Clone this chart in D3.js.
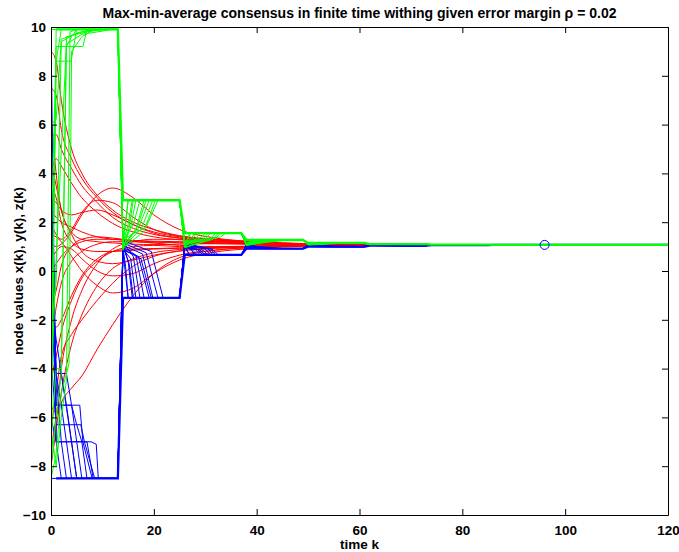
<!DOCTYPE html>
<html lang="en">
<head>
<meta charset="UTF-8">
<title>Max-min-average consensus</title>
<script src="https://d3js.org/d3.v7.min.js"></script>
<style>
  body { margin: 0; background: #fff; }
  text { font-family: "Liberation Sans", Arial, sans-serif; font-weight: bold; font-size: 13.5px; fill: #000; }
  .axis path, .axis line { stroke: #000; }
  .thin { fill: none; stroke-width: 1; }
  .thick { fill: none; stroke-width: 2.3; }
</style>
</head>
<body>
<svg width="679" height="552"></svg>
<script>
// axis ticks
const xTicks = [0, 20, 40, 60, 80, 100, 120];
const yTicks = [-10, -8, -6, -4, -2, 0, 2, 4, 6, 8, 10];

// average consensus x(k) (red), sampled at these k
const redK = [0, 1, 2, 4, 6, 9, 12, 16, 20, 25, 32, 40, 50, 62, 120];
const redSeries = [
  [9.0, 8.6, 7.0, 5.0, 4.0, 3.1, 2.5, 2.0, 1.7, 1.45, 1.3, 1.2, 1.12, 1.08, 1.07],
  [7.5, 7.2, 5.8, 4.6, 3.8, 3.0, 2.4, 1.9, 1.6, 1.4, 1.27, 1.18, 1.11, 1.08, 1.07],
  [5.5, 5.6, 5.0, 4.2, 3.5, 2.8, 2.2, 1.75, 1.5, 1.35, 1.22, 1.15, 1.1, 1.08, 1.07],
  [4.0, 4.6, 4.3, 3.6, 3.0, 2.4, 1.95, 1.6, 1.4, 1.28, 1.2, 1.13, 1.09, 1.075, 1.07],
  [1.2, 1.0, 1.1, 1.6, 2.3, 3.1, 3.4, 3.0, 2.3, 1.7, 1.35, 1.2, 1.11, 1.08, 1.07],
  [2.0, 1.5, 1.3, 1.7, 2.4, 2.9, 2.8, 2.2, 1.7, 1.42, 1.28, 1.17, 1.1, 1.08, 1.07],
  [3.0, 2.8, 2.5, 2.3, 2.4, 2.5, 2.3, 1.9, 1.55, 1.35, 1.24, 1.15, 1.1, 1.08, 1.07],
  [1.5, 1.4, 1.2, 0.6, 0.0, -0.6, -0.9, -0.7, -0.1, 0.45, 0.78, 0.93, 1.02, 1.06, 1.07],
  [0.5, 0.8, 1.0, 0.9, 0.5, 0.0, -0.2, -0.1, 0.3, 0.65, 0.86, 0.97, 1.03, 1.06, 1.07],
  [-8.0, -6.5, -5.0, -3.0, -1.8, -0.6, 0.1, 0.5, 0.75, 0.88, 0.96, 1.01, 1.05, 1.065, 1.07],
  [-7.5, -6.0, -5.4, -4.8, -4.3, -3.2, -2.2, -1.0, -0.1, 0.55, 0.85, 0.97, 1.03, 1.06, 1.07],
  [-6.5, -5.0, -3.5, -2.6, -2.0, -1.2, -0.5, 0.2, 0.6, 0.82, 0.94, 1.0, 1.04, 1.06, 1.07],
  [-4.5, -3.5, -2.5, -1.2, -0.3, 0.4, 0.8, 1.0, 1.05, 1.0, 0.98, 1.02, 1.05, 1.065, 1.07],
  [-3.0, -1.5, -0.5, 0.4, 0.8, 1.1, 1.2, 1.2, 1.15, 1.18, 1.16, 1.12, 1.09, 1.075, 1.07],
  [-1.5, -0.8, 0.2, 1.0, 1.3, 1.4, 1.35, 1.25, 1.2, 1.15, 1.12, 1.1, 1.08, 1.07, 1.07],
  [6.5, 4.0, 2.5, 1.6, 1.3, 1.2, 1.15, 1.1, 1.08, 1.1, 1.12, 1.1, 1.08, 1.07, 1.07],
  [2.5, 2.2, 2.0, 1.8, 1.6, 1.4, 1.3, 1.25, 1.22, 1.2, 1.15, 1.11, 1.085, 1.075, 1.07],
  [0.0, 0.3, 0.6, 1.0, 1.2, 1.3, 1.3, 1.22, 1.15, 1.05, 1.0, 1.02, 1.05, 1.065, 1.07],
  [-2.0, -2.3, -2.0, -1.0, -0.2, 0.5, 0.8, 0.9, 0.92, 0.95, 0.98, 1.02, 1.05, 1.065, 1.07],
  [3.5, 3.0, 2.0, 1.2, 0.9, 0.8, 0.8, 0.85, 0.9, 0.93, 0.97, 1.01, 1.04, 1.06, 1.07],
  [4.5, 3.5, 2.5, 1.5, 0.8, 0.4, 0.3, 0.45, 0.65, 0.82, 0.93, 1.0, 1.04, 1.06, 1.07],
  [-5.5, -5.8, -4.0, -2.0, -0.8, 0.3, 0.9, 1.2, 1.3, 1.3, 1.22, 1.15, 1.1, 1.08, 1.07]
];

// max consensus y(k) (green), [k, value] per node and per period
const greenP1 = [
  [[0, 9.9], [13, 9.9]],
  [[0, -8.4], [1, 9.9], [13, 9.9]],
  [[0, -6.0], [1, 8.6], [2, 9.9], [13, 9.9]],
  [[0, -4.0], [1, 8.6], [3.9, 8.6], [5, 9.9], [13, 9.9]],
  [[0, 1.0], [1, 9.2], [6.2, 9.2], [7, 9.9], [13, 9.9]],
  [[0, -8.0], [1, -6.0], [2, -4.2], [3, 9.2], [4, 9.6], [5, 9.9], [13, 9.9]],
  [[0, -2.5], [1, -0.45], [2, 9.4], [5, 9.75], [8, 9.9], [13, 9.9]],
  [[0, 6.0], [1, 6.2], [2, 9.5], [6, 9.8], [9, 9.9], [13, 9.9]],
  [[0, -7.0], [1, -4.0], [2, -4.0], [3, 9.6], [7, 9.8], [10, 9.9], [13, 9.9]],
  [[0, -8.5], [1, -7.5], [2, -5.0], [3.5, -3.8], [4, 9.0], [6, 9.6], [8, 9.85], [11, 9.9], [13, 9.9]],
  [[0, -5.0], [1, 0.5], [3, 9.3], [6, 9.7], [12, 9.9], [13, 9.9]],
  [[0, -6.5], [1, -8.0], [2, -6.0], [3, -4.5], [3.7, 9.8], [5, 9.9], [13, 9.9]]
];
const greenP2 = [
  [[14, 1.05], [14.5, 1.9], [15, 2.9], [25, 2.9]],
  [[14, 1.15], [15, 1.9], [15.8, 2.9], [25, 2.9]],
  [[14, 0.95], [15.5, 1.8], [16.5, 2.9], [25, 2.9]],
  [[14, 1.25], [16, 1.9], [17.3, 2.9], [25, 2.9]],
  [[14, 0.9], [16.5, 1.7], [18.1, 2.9], [25, 2.9]],
  [[14, 1.1], [17, 1.75], [19.1, 2.9], [25, 2.9]],
  [[14, 1.0], [17.5, 1.7], [19.8, 2.9], [25, 2.9]],
  [[14, 1.3], [18.5, 1.8], [20.8, 2.9], [25, 2.9]],
  [[14, 1.2], [15, 2.9], [25, 2.9]],
  [[14, 0.85], [15.2, 1.8], [16, 2.9], [25, 2.9]],
  [[14, 1.05], [16.8, 1.8], [18.5, 2.9], [25, 2.9]],
  [[14, 0.95], [18, 1.6], [20.3, 2.9], [25, 2.9]]
];
const greenP3 = [
  [[26, 1.05], [27, 1.55], [37, 1.55]],
  [[26, 1.1], [27.3, 1.35], [28, 1.55], [37, 1.55]],
  [[26, 1.0], [28, 1.3], [29, 1.55], [37, 1.55]],
  [[26, 1.15], [29, 1.35], [30, 1.55], [37, 1.55]],
  [[26, 1.05], [30, 1.3], [31, 1.55], [37, 1.55]],
  [[26, 0.95], [31, 1.3], [32, 1.55], [37, 1.55]],
  [[26, 1.1], [32, 1.35], [33, 1.55], [37, 1.55]],
  [[26, 1.2], [33, 1.4], [34, 1.55], [37, 1.55]],
  [[26, 1.0], [27.5, 1.3], [28.3, 1.55], [37, 1.55]],
  [[26, 1.12], [29.5, 1.3], [30.5, 1.55], [37, 1.55]],
  [[26, 0.98], [31.5, 1.3], [32.5, 1.55], [37, 1.55]],
  [[26, 1.08], [26.6, 1.3], [27.2, 1.55], [37, 1.55]]
];
const greenP4 = [
  [[38, 1.08], [39, 1.27], [49, 1.27]],
  [[38, 1.12], [39.5, 1.27], [49, 1.27]],
  [[38, 1.05], [40, 1.27], [49, 1.27]],
  [[38, 1.1], [40.5, 1.27], [49, 1.27]],
  [[38, 1.07], [41, 1.27], [49, 1.27]],
  [[38, 1.14], [41.5, 1.27], [49, 1.27]],
  [[38, 1.06], [42, 1.27], [49, 1.27]],
  [[38, 1.1], [43, 1.27], [49, 1.27]],
  [[38, 1.09], [43.5, 1.27], [49, 1.27]],
  [[38, 1.04], [44, 1.27], [49, 1.27]],
  [[38, 1.11], [45, 1.27], [49, 1.27]],
  [[38, 1.08], [46, 1.27], [49, 1.27]]
];
const greenP5 = [
  [[50, 1.07], [51, 1.15], [61, 1.15]],
  [[50, 1.09], [51.5, 1.15], [61, 1.15]],
  [[50, 1.06], [52, 1.15], [61, 1.15]],
  [[50, 1.08], [52.5, 1.15], [61, 1.15]],
  [[50, 1.07], [53, 1.15], [61, 1.15]],
  [[50, 1.1], [53.5, 1.15], [61, 1.15]],
  [[50, 1.06], [54, 1.15], [61, 1.15]],
  [[50, 1.08], [55, 1.15], [61, 1.15]],
  [[50, 1.07], [55.5, 1.15], [61, 1.15]],
  [[50, 1.05], [56, 1.15], [61, 1.15]],
  [[50, 1.09], [57, 1.15], [61, 1.15]],
  [[50, 1.07], [58, 1.15], [61, 1.15]]
];
const greenEndK = [63, 63.5, 64, 64.5, 65, 65.5, 66, 67, 67.5, 68, 69, 70];
const greenEndK7 = [75, 75.5, 76, 76.5, 77, 77.5, 78, 79, 79.5, 80, 81, 82];

// min consensus z(k) (blue)
const blueP1 = [
  [[0, -8.5], [13, -8.5]],
  [[0, 9.9], [1, -7.0], [2, -8.5], [13, -8.5]],
  [[0, -2.0], [1, -4.2], [2, -7.0], [3, -8.5], [13, -8.5]],
  [[0, 4.0], [1, -4.2], [2, -4.2], [3, -5.5], [4, -7.0], [5, -8.5], [13, -8.5]],
  [[0, 0.5], [1, -4.2], [3, -4.2], [4, -5.5], [5, -7.0], [6, -8.5], [13, -8.5]],
  [[0, 6.5], [1, -5.5], [4, -5.5], [5, -6.3], [6, -7.0], [7, -8.5], [13, -8.5]],
  [[0, 2.5], [1, -5.5], [5.6, -5.5], [6.2, -7.0], [8, -8.5], [13, -8.5]],
  [[0, -3.5], [1, -6.3], [5.8, -6.3], [6.5, -7.0], [8.5, -8.5], [13, -8.5]],
  [[0, 1.5], [1, -7.0], [7.8, -7.0], [8.8, -7.1], [9.2, -8.5], [13, -8.5]],
  [[0, -6.0], [1, -7.0], [7, -7.0], [8.2, -8.5], [13, -8.5]],
  [[0, 3.0], [1, -4.2], [2, -5.5], [3, -7.0], [4, -8.5], [13, -8.5]],
  [[0, -1.0], [1, -2.8], [2, -4.2], [3.5, -6.3], [5, -8.5], [13, -8.5]]
];
const blueP2 = [
  [[14, 0.95], [14.5, 0.2], [15, -1.1], [25, -1.1]],
  [[14, 1.1], [15, 0.4], [15.8, -1.1], [25, -1.1]],
  [[14, 0.9], [15.5, 0.5], [16.5, -1.1], [25, -1.1]],
  [[14, 1.2], [16, 0.6], [17.3, -1.1], [25, -1.1]],
  [[14, 1.0], [16.5, 0.65], [18.1, -1.1], [25, -1.1]],
  [[14, 0.85], [17, 0.6], [19.1, -1.1], [25, -1.1]],
  [[14, 1.05], [17.8, 0.7], [19.8, -1.1], [25, -1.1]],
  [[14, 1.15], [18.5, 0.75], [20.8, -1.1], [25, -1.1]],
  [[14, 1.25], [19.5, 0.8], [21.8, -1.1], [25, -1.1]],
  [[14, 0.8], [15, -1.1], [25, -1.1]],
  [[14, 1.0], [15.2, 0.3], [16, -1.1], [25, -1.1]],
  [[14, 0.9], [17.5, 0.5], [19.5, -1.1], [25, -1.1]]
];
const blueP3 = [
  [[26, 1.0], [27, 0.66], [37, 0.66]],
  [[26, 1.05], [27.3, 0.85], [28, 0.66], [37, 0.66]],
  [[26, 1.1], [28, 0.9], [29, 0.66], [37, 0.66]],
  [[26, 0.98], [29, 0.85], [30, 0.66], [37, 0.66]],
  [[26, 1.08], [30, 0.9], [31, 0.66], [37, 0.66]],
  [[26, 1.12], [31, 0.92], [32, 0.66], [37, 0.66]],
  [[26, 1.02], [27.6, 0.85], [28.4, 0.66], [37, 0.66]],
  [[26, 1.06], [28.5, 0.88], [29.5, 0.66], [37, 0.66]],
  [[26, 0.95], [29.6, 0.85], [30.5, 0.66], [37, 0.66]],
  [[26, 1.1], [30.6, 0.9], [31.5, 0.66], [37, 0.66]],
  [[26, 1.0], [26.5, 0.8], [27, 0.66], [37, 0.66]],
  [[26, 1.04], [31.5, 0.88], [32.5, 0.66], [37, 0.66]]
];
const blueP4 = [
  [[38, 1.02], [39, 0.92], [49, 0.92]],
  [[38, 1.06], [39.5, 0.92], [49, 0.92]],
  [[38, 1.0], [40, 0.92], [49, 0.92]],
  [[38, 1.05], [40.5, 0.92], [49, 0.92]],
  [[38, 1.08], [41, 0.92], [49, 0.92]],
  [[38, 1.03], [41.5, 0.92], [49, 0.92]],
  [[38, 1.06], [42, 0.92], [49, 0.92]],
  [[38, 1.01], [42.5, 0.92], [49, 0.92]],
  [[38, 1.07], [43, 0.92], [49, 0.92]],
  [[38, 1.04], [43.5, 0.92], [49, 0.92]],
  [[38, 1.02], [44, 0.92], [49, 0.92]],
  [[38, 1.05], [45, 0.92], [49, 0.92]]
];
const blueP5 = [
  [[50, 1.06], [51, 1.0], [61, 1.0]],
  [[50, 1.07], [51.5, 1.0], [61, 1.0]],
  [[50, 1.05], [52, 1.0], [61, 1.0]],
  [[50, 1.08], [52.5, 1.0], [61, 1.0]],
  [[50, 1.06], [53, 1.0], [61, 1.0]],
  [[50, 1.07], [53.5, 1.0], [61, 1.0]],
  [[50, 1.05], [54, 1.0], [61, 1.0]],
  [[50, 1.08], [54.5, 1.0], [61, 1.0]],
  [[50, 1.06], [55, 1.0], [61, 1.0]],
  [[50, 1.07], [55.5, 1.0], [61, 1.0]],
  [[50, 1.05], [56, 1.0], [61, 1.0]],
  [[50, 1.06], [57, 1.0], [61, 1.0]]
];
const blueEndK = [63, 63.5, 64, 64.5, 65, 65.5, 66, 66.5, 67, 67.5, 68, 69];
const blueEndK7 = [75, 75.5, 76, 76.5, 77, 77.5, 78, 78.5, 79, 79.5, 80, 81];

// period levels after k = 61 and final consensus value
const greenLate = [1.1, 1.08];
const blueLate = [1.04, 1.06];
const consensus = 1.07;

// thick envelopes (overall max / min)
const greenEnvelope = [[1, 9.9], [13, 9.9], [14, 2.9], [25, 2.9], [26, 1.55], [37, 1.55], [38, 1.27], [49, 1.27],
  [50, 1.15], [61, 1.15], [62, 1.1], [73, 1.1], [74, 1.08], [85, 1.08], [86, 1.07], [120, 1.07]];
const blueEnvelope = [[1, -8.5], [13, -8.5], [14, -1.1], [25, -1.1], [26, 0.66], [37, 0.66], [38, 0.92], [49, 0.92],
  [50, 1.0], [61, 1.0], [62, 1.04], [73, 1.04], [74, 1.06], [85, 1.06], [86, 1.07], [120, 1.07]];

// stopping point marker
const stopK = 96;

// ---------------------------------------------------------------
const margin = {top: 27, right: 11, bottom: 37, left: 51};
const width = 679 - margin.left - margin.right;
const height = 552 - margin.top - margin.bottom;

const svg = d3.select('svg');
const g = svg.append('g').attr('transform', `translate(${margin.left},${margin.top})`);

const x = d3.scaleLinear().domain([0, 120]).range([0, width]);
const y = d3.scaleLinear().domain([-10, 10]).range([height, 0]);

g.append('clipPath').attr('id', 'clip')
  .append('rect').attr('width', width).attr('height', height);

const plot = g.append('g').attr('clip-path', 'url(#clip)');

const smooth = d3.line().x(d => x(d[0])).y(d => y(d[1])).curve(d3.curveMonotoneX);
const straight = d3.line().x(d => x(d[0])).y(d => y(d[1]));

// red
const redLines = redSeries.map(vals => vals.map((v, i) => [redK[i], v]));
plot.selectAll('.red').data(redLines).enter().append('path')
  .attr('class', 'thin red').attr('stroke', '#ff0000').attr('d', smooth);

// assemble node lines across the periods
function nodeLines(p1, p2, p3, p4, p5, end6, end7, late) {
  return p1.map((seg, i) => [].concat(seg, p2[i], p3[i], p4[i], p5[i],
    [[62, consensus], [end6[i], late[0]], [73, late[0]],
     [74, consensus], [end7[i], late[1]], [85, late[1]],
     [86, consensus], [120, consensus]]));
}
const blueLines = nodeLines(blueP1, blueP2, blueP3, blueP4, blueP5, blueEndK, blueEndK7, blueLate);
const greenLines = nodeLines(greenP1, greenP2, greenP3, greenP4, greenP5, greenEndK, greenEndK7, greenLate);

plot.selectAll('.blue').data(blueLines).enter().append('path')
  .attr('class', 'thin blue').attr('stroke', '#0000ff').attr('d', straight);
plot.selectAll('.green').data(greenLines).enter().append('path')
  .attr('class', 'thin green').attr('stroke', '#00ff00').attr('d', straight);

plot.append('path').datum(blueEnvelope).attr('class', 'thick')
  .attr('stroke', '#0000ff').attr('d', straight);
plot.append('path').datum(greenEnvelope).attr('class', 'thick')
  .attr('stroke', '#00ff00').attr('d', straight);

plot.append('circle')
  .attr('cx', x(stopK)).attr('cy', y(consensus)).attr('r', 4.5)
  .attr('fill', 'none').attr('stroke', '#0000ff').attr('stroke-width', 1);

// axes, MATLAB style ticks inside the box
function styleAxis(sel) {
  sel.attr('font-size', null).attr('font-family', null);
  sel.selectAll('text').style('font-weight', 'bold');
}
g.append('g').attr('class', 'axis').attr('transform', `translate(0,${height})`)
  .call(d3.axisBottom(x).tickValues(xTicks).tickSizeInner(-6).tickSizeOuter(0).tickPadding(10))
  .call(styleAxis);
g.append('g').attr('class', 'axis')
  .call(d3.axisTop(x).tickValues(xTicks).tickSizeInner(-6).tickSizeOuter(0).tickFormat(''));
g.append('g').attr('class', 'axis')
  .call(d3.axisLeft(y).tickValues(yTicks).tickSizeInner(-6).tickSizeOuter(0).tickPadding(5))
  .call(styleAxis);
g.append('g').attr('class', 'axis').attr('transform', `translate(${width},0)`)
  .call(d3.axisRight(y).tickValues(yTicks).tickSizeInner(-6).tickSizeOuter(0).tickFormat(''));

// labels
svg.append('text').attr('x', margin.left + width / 2).attr('y', 18)
  .attr('text-anchor', 'middle').style('font-size', '14px')
  .text('Max-min-average consensus in finite time withing given error margin ρ = 0.02');
svg.append('text').attr('x', margin.left + width / 2).attr('y', 549)
  .attr('text-anchor', 'middle').text('time k');
svg.append('text')
  .attr('transform', `translate(23,${margin.top + height / 2}) rotate(-90)`)
  .attr('text-anchor', 'middle').text('node values x(k), y(k), z(k)');
</script>
</body>
</html>
